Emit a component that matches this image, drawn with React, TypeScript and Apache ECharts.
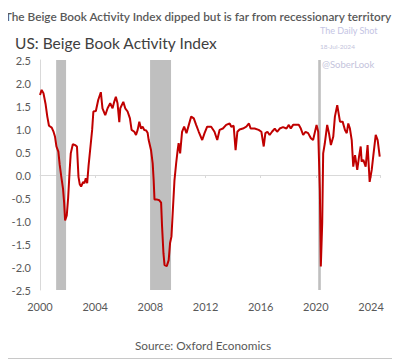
import React, { useEffect, useRef } from "react";
import * as echarts from "echarts";

const dates: number[] = [
  2000.0, 2000.12, 2000.25, 2000.4, 2000.53, 2000.65, 2000.85, 2000.97, 2001.09, 2001.19,
  2001.33, 2001.43, 2001.55, 2001.67, 2001.75, 2001.82, 2001.94, 2002.04, 2002.15, 2002.23,
  2002.38, 2002.55, 2002.68, 2002.79, 2002.88, 2002.98, 2003.13, 2003.22, 2003.32, 2003.42,
  2003.52, 2003.66, 2003.78, 2003.87, 2004.05, 2004.22, 2004.41, 2004.53, 2004.73, 2004.9,
  2005.09, 2005.26, 2005.38, 2005.5, 2005.62, 2005.75, 2005.82, 2006.04, 2006.18, 2006.35,
  2006.52, 2006.64, 2006.84, 2006.96, 2007.08, 2007.2, 2007.32, 2007.44, 2007.56, 2007.69,
  2007.8, 2007.88, 2008.05, 2008.17, 2008.24, 2008.3, 2008.45, 2008.65, 2008.78, 2008.85,
  2008.95, 2009.03, 2009.19, 2009.33, 2009.43, 2009.53, 2009.62, 2009.75, 2009.87, 2009.98,
  2010.05, 2010.16, 2010.3, 2010.45, 2010.62, 2010.79, 2010.96, 2011.15, 2011.32, 2011.51,
  2011.76, 2011.93, 2012.12, 2012.41, 2012.65, 2012.85, 2013.02, 2013.26, 2013.5, 2013.75,
  2013.87, 2014.04, 2014.18, 2014.31, 2014.47, 2014.71, 2014.96, 2015.15, 2015.27, 2015.56,
  2015.85, 2016.05, 2016.22, 2016.34, 2016.49, 2016.65, 2016.82, 2017.02, 2017.19, 2017.38,
  2017.62, 2017.87, 2018.04, 2018.18, 2018.35, 2018.6, 2018.76, 2018.91, 2019.08, 2019.25,
  2019.44, 2019.64, 2019.8, 2020.05, 2020.17, 2020.29, 2020.36, 2020.46, 2020.53, 2020.65,
  2020.82, 2020.95, 2021.09, 2021.26, 2021.38, 2021.55, 2021.75, 2021.94, 2022.11, 2022.24,
  2022.35, 2022.47, 2022.6, 2022.71, 2022.84, 2023.0, 2023.13, 2023.25, 2023.32, 2023.44,
  2023.61, 2023.75, 2023.9, 2024.05, 2024.17, 2024.34, 2024.48, 2024.63,
];

const values: number[] = [
  1.74, 1.85, 1.78, 1.55, 1.27, 1.07, 1.03, 0.95, 0.83, 0.62,
  0.51, 0.22, -0.05, -0.3, -0.6, -0.99, -0.88, -0.5, 0.1, 0.47,
  0.67, 0.65, 0.62, -0.04, -0.2, -0.25, -0.15, -0.18, -0.07, -0.18,
  0.2, 0.62, 0.98, 1.38, 1.39, 1.63, 1.8, 1.45, 1.3, 1.45,
  1.56, 1.45, 1.59, 1.7, 1.56, 1.15, 1.45, 1.59, 1.45, 1.38,
  1.23, 0.98, 0.94, 0.87, 0.98, 1.16, 1.01, 1.05, 0.98, 0.97,
  0.92, 0.76, 0.54, 0.25, -0.11, -0.53, -0.53, -0.55, -0.6, -1.12,
  -1.7, -1.96, -1.98, -1.85, -1.48, -1.34, -0.83, -0.11, 0.25, 0.54,
  0.69, 0.47, 0.94, 1.05, 0.91, 1.09, 1.27, 1.23, 1.09, 0.94,
  0.76, 0.91, 1.05, 1.05, 0.94, 0.76, 0.98, 1.01, 1.09, 1.12,
  1.05, 1.07, 0.54, 0.94, 0.99, 1.01, 1.05, 1.12, 1.01, 1.01,
  0.98, 0.94, 0.62, 0.91, 0.94, 0.87, 0.94, 1.01, 0.94, 1.01,
  1.04, 1.01, 1.09, 1.01, 1.09, 1.09, 1.09, 1.01, 0.87, 0.94,
  0.91, 0.8, 0.76, 1.09, 0.94, -0.33, -1.99, -1.05, 0.47, 0.69,
  1.09, 0.91, 0.65, 0.83, 1.27, 1.52, 1.16, 1.16, 0.98, 0.91,
  1.12, 1.01, 0.76, 0.18, 0.43, 0.11, 0.4, 0.62, 0.29, 0.33,
  0.18, 0.65, -0.15, 0.11, 0.43, 0.87, 0.76, 0.4,
];

const recessionStarts: number[] = [2001.17, 2007.98, 2020.17];
const recessionEnds: number[] = [2001.89, 2009.5, 2020.36];

const yTicks: number[] = [2.5, 2.0, 1.5, 1.0, 0.5, 0.0, -0.5, -1.0, -1.5, -2.0, -2.5];
const xTicks: number[] = [2000, 2004, 2008, 2012, 2016, 2020, 2024];

const FONT = "Lato, 'Open Sans', sans-serif";

export default function App() {
  const ref = useRef<HTMLDivElement>(null);
  useEffect(() => {
    if (!ref.current) return;
    const chart = echarts.init(ref.current, undefined, { renderer: "svg" });
    const lineData = dates.map((d, i) => [d, values[i]]);
    const areas = recessionStarts.map((s, i) => [
      { xAxis: s, yAxis: yTicks[0] },
      { xAxis: recessionEnds[i], yAxis: yTicks[yTicks.length - 1] },
    ]);
    chart.setOption({
      animation: false,
      backgroundColor: "#ffffff",
      textStyle: { fontFamily: FONT },
      grid: { left: 40, right: 20, top: 60, bottom: 70 },
      graphic: [
        {
          type: "rect",
          shape: { x: 0.5, y: 0.5, width: 398, height: 358 },
          style: { fill: "none", stroke: "#c8c8c8", lineWidth: 1 },
          silent: true,
        },
        {
          type: "text",
          x: 198,
          y: 16,
          style: {
            text: "The Beige Book Activity Index dipped but is far from recessionary territory",
            fill: "#595959",
            font: "600 11.8px " + FONT,
            align: "center",
            verticalAlign: "middle",
          },
        },
        {
          type: "text",
          x: 15,
          y: 43,
          style: {
            text: "US: Beige Book Activity Index",
            fill: "#404040",
            font: "15.5px " + FONT,
            align: "left",
            verticalAlign: "middle",
          },
        },
        {
          type: "text",
          x: 320,
          y: 30,
          style: {
            text: "The Daily Shot",
            fill: "#c4c4e4",
            font: "9px " + FONT,
            align: "left",
            verticalAlign: "middle",
          },
        },
        {
          type: "text",
          x: 320,
          y: 46,
          style: {
            text: "18-Jul-2024",
            fill: "#c4c4dc",
            font: "6.5px " + FONT,
            align: "left",
            verticalAlign: "middle",
          },
        },
        {
          type: "text",
          x: 322,
          y: 64,
          style: {
            text: "@SoberLook",
            fill: "#c4c4dc",
            font: "9.5px " + FONT,
            align: "left",
            verticalAlign: "middle",
          },
        },
        {
          type: "text",
          x: 203,
          y: 345,
          style: {
            text: "Source: Oxford Economics",
            fill: "#595959",
            font: "11.8px " + FONT,
            align: "center",
            verticalAlign: "middle",
          },
        },
      ],
      xAxis: [
        {
          type: "value",
          min: xTicks[0],
          max: 2024.65,
          interval: 4,
          axisLine: { show: false, onZero: false },
          axisTick: { show: false },
          splitLine: { show: false },
          axisLabel: {
            color: "#595959",
            fontSize: 11,
            margin: 11,
            fontFamily: FONT,
            formatter: (v: number) => String(v),
          },
        },
        {
          type: "value",
          min: xTicks[0],
          max: 2024.65,
          interval: 4,
          position: "bottom",
          axisLine: { show: true, onZero: true, lineStyle: { color: "#d9d9d9", width: 1 } },
          axisTick: { show: true, length: 3, lineStyle: { color: "#d9d9d9" } },
          splitLine: { show: false },
          axisLabel: { show: false },
        },
      ],
      yAxis: {
        type: "value",
        min: yTicks[yTicks.length - 1],
        max: yTicks[0],
        interval: 0.5,
        axisLine: { show: true, lineStyle: { color: "#d9d9d9" } },
        axisTick: { show: false },
        splitLine: { show: false },
        axisLabel: {
          color: "#595959",
          fontSize: 11,
          margin: 9,
          fontFamily: FONT,
          formatter: (v: number) => v.toFixed(1),
        },
      },
      series: [
        {
          type: "line",
          data: lineData,
          showSymbol: false,
          lineStyle: { color: "#c00000", width: 2 },
          z: 3,
          markArea: {
            silent: true,
            itemStyle: { color: "#bfbfbf" },
            data: areas,
          },
        },
      ],
    });
    return () => chart.dispose();
  }, []);
  return <div ref={ref} style={{ width: 400, height: 360, marginLeft: -8, marginTop: -8 }} />;
}
